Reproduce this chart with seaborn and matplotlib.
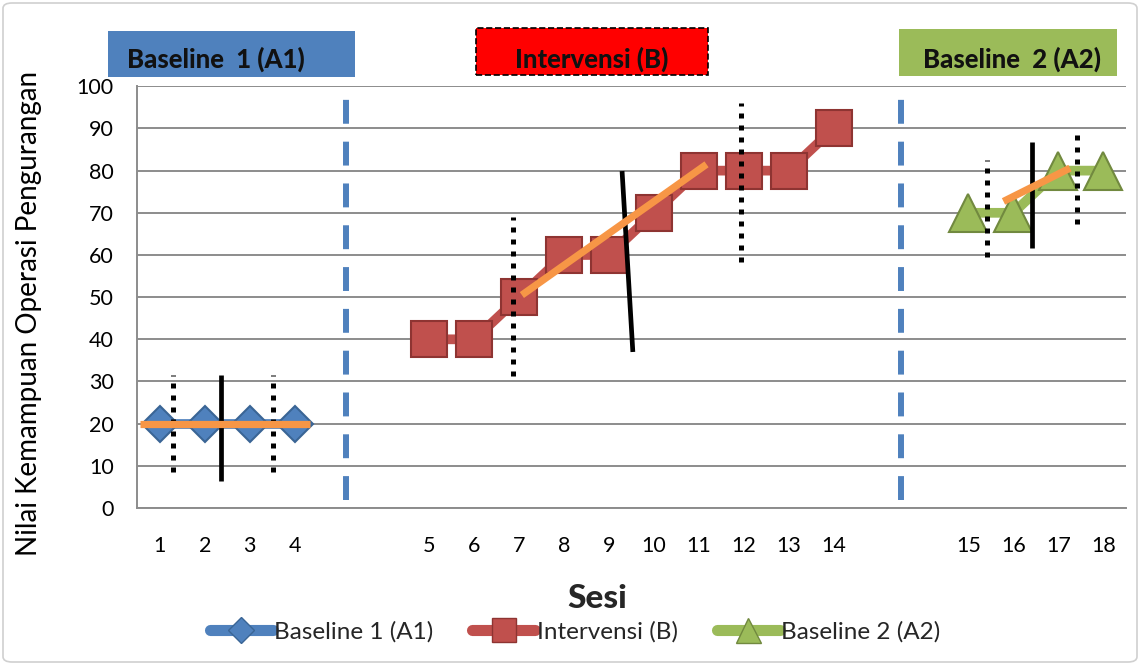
import matplotlib
matplotlib.use("Agg")
import numpy as np
import pandas as pd
import seaborn as sns
import matplotlib.pyplot as plt
from matplotlib.patches import Rectangle, FancyBboxPatch
from matplotlib.lines import Line2D

# ---------------- data ----------------
sessions_a1 = [1, 2, 3, 4]
values_a1 = [20, 20, 20, 20]
sessions_b = [5, 6, 7, 8, 9, 10, 11, 12, 13, 14]
values_b = [40, 40, 50, 60, 60, 70, 80, 80, 80, 90]
sessions_a2 = [15, 16, 17, 18]
values_a2 = [70, 70, 80, 80]
phase_names = ["Baseline  1 (A1)", "Intervensi (B)", "Baseline  2 (A2)"]
series_names = ["Baseline 1 (A1)", "Intervensi (B)", "Baseline 2 (A2)"]
y_ticks = [0, 10, 20, 30, 40, 50, 60, 70, 80, 90, 100]
gap_slots = 2  # empty category slots between phases

# analysis lines (x in category-slot units, y in score units)
trend_a1_x = [-0.44, 3.34]
trend_a1_y = [20, 20]
trend_b_x = [8.06, 12.17]
trend_b_y = [50.5, 81.5]
trend_a2_x = [18.78, 20.26]
trend_a2_y = [72.7, 80.6]
median_a1_x = [1.36, 1.36]
median_a1_y = [6.5, 31.5]
median_b_x = [10.29, 10.53]
median_b_y = [79.9, 37.0]
median_a2_x = [19.41, 19.41]
median_a2_y = [61.6, 86.7]
band_x = [0.29, 2.51, 7.86, 12.93, 18.42, 20.41]
band_lo = [8.6, 8.6, 31.3, 58.4, 59.6, 67.3]
band_hi = [31.5, 31.5, 69.0, 96.0, 82.5, 90.0]
phase_sep_x = [4.15, 16.5]
phase_sep_y = [2, 97]

# ---------------- figure ----------------
W, H = 1140, 665
sns.set_theme(style="white")
plt.rcParams["font.family"] = ["Lato", "DejaVu Sans"]

fig = plt.figure(figsize=(W / 100, H / 100), dpi=100)
ax_l, ax_r, ax_b, ax_t = 137.3, 1125.7, 508.0, 86.3
ax = fig.add_axes([ax_l / W, 1 - ax_b / H, (ax_r - ax_l) / W, (ax_b - ax_t) / H])

def positions(sessions, phase):
    return [s - 1 + gap_slots * phase for s in sessions]

df = pd.concat([
    pd.DataFrame({"pos": positions(sessions_a1, 0), "val": values_a1, "series": series_names[0]}),
    pd.DataFrame({"pos": positions(sessions_b, 1), "val": values_b, "series": series_names[1]}),
    pd.DataFrame({"pos": positions(sessions_a2, 2), "val": values_a2, "series": series_names[2]}),
])

colors = ["#4F81BD", "#C0504D", "#9BBB59"]
edges = ["#3A6595", "#8E3432", "#71893F"]
markers = ["D", "s", "^"]
msizes = [18.5, 26, 28]

ax.set_xlim(-0.5, 21.5)
ax.set_ylim(0, 100)

# gridlines
ax.set_yticks(y_ticks)
ax.yaxis.grid(True, color="#8C8C8C", lw=1.4)
ax.set_axisbelow(True)

for i, name in enumerate(series_names):
    sub = df[df["series"] == name]
    sns.lineplot(data=sub, x="pos", y="val", ax=ax, color=colors[i], lw=7,
                 marker=markers[i], markersize=msizes[i], markerfacecolor=colors[i],
                 markeredgecolor=edges[i], markeredgewidth=1.5, zorder=3,
                 solid_capstyle="butt")

# phase separators
for x in phase_sep_x:
    ax.plot([x, x], phase_sep_y, color="#4F81BD", lw=4.3, dashes=(4, 3),
            solid_capstyle="butt", dash_capstyle="butt", zorder=2)

# bands (dotted)
for x, lo, hi in zip(band_x, band_lo, band_hi):
    ax.plot([x, x], [lo, hi], color="black", lw=3.6, dashes=(1, 1.4),
            dash_capstyle="butt", zorder=5)

# medians
for xs, ys in [(median_a1_x, median_a1_y), (median_b_x, median_b_y), (median_a2_x, median_a2_y)]:
    ax.plot(xs, ys, color="black", lw=3.4, solid_capstyle="butt", zorder=5)

# trends
for xs, ys in [(trend_a1_x, trend_a1_y), (trend_b_x, trend_b_y), (trend_a2_x, trend_a2_y)]:
    ax.plot(xs, ys, color="#F79646", lw=5.2, solid_capstyle="butt", zorder=6)

all_pos = positions(sessions_a1, 0) + positions(sessions_b, 1) + positions(sessions_a2, 2)
all_lab = sessions_a1 + sessions_b + sessions_a2
ax.set_xticks(all_pos)
ax.set_xticklabels([str(s) for s in all_lab])
ax.tick_params(axis="x", length=0, pad=20, labelsize=15.5, colors="black")
ax.tick_params(axis="y", length=0, pad=17, labelsize=15.5, colors="black")
ax.set_xlabel("")
ax.set_ylabel("Nilai Kemampuan Operasi Pengurangan", fontsize=20, color="black")
ax.yaxis.set_label_coords((42 - ax_l) / (ax_r - ax_l), (ax_b - 313) / (ax_b - ax_t))

for s in ["top", "right"]:
    ax.spines[s].set_visible(False)
for s in ["left", "bottom"]:
    ax.spines[s].set_color("#8C8C8C")
    ax.spines[s].set_linewidth(1.4)

fig.text(597 / W, 1 - 598 / H, "Sesi", fontsize=24, fontweight="black", ha="center", va="center")

# header boxes
boxes = [
    (108, 31, 355, 77, "#4F81BD", "none", "solid", 127, "left"),
    (476, 28, 708, 75, "#FF0000", "black", "dashed", 592, "center"),
    (899, 29, 1117, 76, "#9BBB59", "none", "solid", 1012, "center"),
]
for (x0, y0, x1, y1, fc, ec, ls, tx, ha), label in zip(boxes, phase_names):
    fig.patches.append(Rectangle((x0 / W, 1 - y1 / H), (x1 - x0) / W, (y1 - y0) / H,
                                 transform=fig.transFigure, facecolor=fc, edgecolor=ec,
                                 linestyle=ls, lw=1.2))
    fig.text(tx / W, 1 - 59 / H, label, fontsize=18.5, fontweight="black", ha=ha, va="center",
             color="#111111")

# legend
handles = [Line2D([], [], color=colors[i], lw=8, marker=markers[i], markersize=[13, 17, 18][i],
                  markerfacecolor=colors[i], markeredgecolor=edges[i], solid_capstyle="round")
           for i in range(3)]
fig.legend(handles, series_names, loc="center", bbox_to_anchor=(575 / W, 1 - 632 / H), ncol=3,
           frameon=False, fontsize=17.5, handlelength=2.6, handletextpad=0.05, columnspacing=1.6)

# outer border
fig.patches.append(FancyBboxPatch((3 / W, 3 / H), (W - 6) / W, (H - 6) / H,
                                  boxstyle="round,pad=0,rounding_size=0.008",
                                  transform=fig.transFigure, facecolor="none",
                                  edgecolor="#D0D0D0", lw=1.2))

fig.savefig("out.png", dpi=100)
